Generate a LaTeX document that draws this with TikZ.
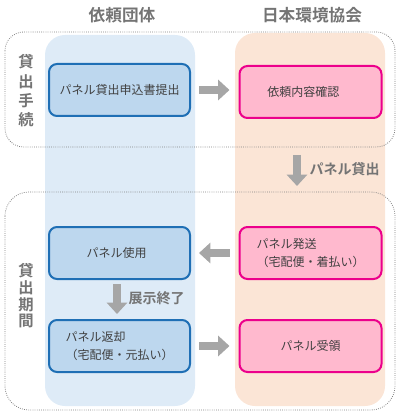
\documentclass[tikz,border=0pt]{standalone}
\usepackage{fontspec}
\setmainfont{Noto Sans CJK JP}[BoldFont={* Bold}]
\usepackage{tikz}
\usetikzlibrary{arrows.meta}
\definecolor{colblue}{HTML}{DEEBF7}
\definecolor{colpeach}{HTML}{FBE5D6}
\definecolor{boxblue}{HTML}{BDD7EE}
\definecolor{lineblue}{HTML}{1F6FB5}
\definecolor{boxpink}{HTML}{FFB9CE}
\definecolor{arrgray}{HTML}{A6A6A6}
\definecolor{headgray}{HTML}{747474}
\definecolor{txtgray}{HTML}{404040}
\tikzset{
	bluebox/.style={draw=lineblue, fill=boxblue, line width=1.5pt, rounded corners=6pt, minimum width=105.75pt, minimum height=39pt, text=txtgray, font=\fontsize{9}{14}\selectfont, align=left},
	pinkbox/.style={draw=magenta, fill=boxpink, line width=1.5pt, rounded corners=6pt, minimum width=106.5pt, minimum height=39pt, text=txtgray, font=\fontsize{9}{14}\selectfont, align=left},
	blockarr/.style={draw=arrgray, line width=6pt, -{Triangle[length=8.5pt,width=15pt]}},
	grp/.style={draw=gray, densely dotted, line width=0.6pt},
	heading/.style={text=headgray, font=\fontsize{12.5}{14}\selectfont\bfseries},
	sidelabel/.style={text=headgray, font=\fontsize{11.5}{14.5}\selectfont\bfseries, align=center},
	arrlabel/.style={text=headgray, font=\fontsize{10.5}{13}\selectfont\bfseries, anchor=west}
}
\begin{document}
\begin{tikzpicture}[x=0.75pt, y=-0.75pt]
		%%%%% START %%%%%
		\useasboundingbox (0, 0) rectangle (400, 413);
		
		% columns
		\fill[colblue, rounded corners=15pt] (45, 35) rectangle (195, 406);
		\fill[colpeach, rounded corners=15pt] (235, 33) rectangle (385, 406);
		\node[heading] (hreq) at (122, 15) {依頼団体};
		\node[heading] (hjea) at (312, 15) {日本環境協会};
		
		% groups
		\draw[grp, rounded corners=14pt] (5, 32) rectangle (395, 147);
		\draw[grp, rounded corners=18pt] (5, 192) rectangle (395, 410);
		\node[sidelabel] (lproc) at (26, 91) {貸\\出\\手\\続};
		\node[sidelabel, font=\fontsize{11.5}{12.5}\selectfont\bfseries] (lterm) at (26, 296) {貸\\出\\期\\間};
		
		% boxes
		\node[bluebox] (apply) at (119.5, 90) {パネル貸出申込書提出};
		\node[pinkbox] (check) at (310.5, 92) {依頼内容確認\hspace{1.2em}};
		\node[bluebox] (use) at (119.5, 253) {パネル使用\hspace{0.5em}};
		\node[pinkbox] (ship) at (310.5, 253) {パネル発送\\（宅配便・着払い）};
		\node[bluebox] (back) at (119.5, 346) {パネル返却\\（宅配便・元払い）};
		\node[pinkbox] (recv) at (310.5, 346) {パネル受領};
		
		% arrows
		\draw[blockarr] ([shift={(8, 0)}]apply.east) -- ([shift={(-9, 0)}]apply.east -| check.west);
		\coordinate (lendA) at (297, 155);
		\coordinate (lendB) at (297, 186);
		\draw[blockarr] (lendA) -- (lendB);
		\node[arrlabel] (tlend) at (305, 169) {パネル貸出};
		\draw[blockarr] ([shift={(-9, 0)}]ship.west) -- ([shift={(8, 0)}]use.east);
		\draw[blockarr] ([shift={(-2.5, 4)}]use.south) -- ([shift={(-2.5, -5)}]back.north);
		\node[arrlabel] (tend) at (124, 298) {展示終了};
		\draw[blockarr] ([shift={(8, 0)}]back.east) -- ([shift={(-9, 0)}]recv.west);
		
		%%%%% END %%%%%
	\end{tikzpicture}
\end{document}
